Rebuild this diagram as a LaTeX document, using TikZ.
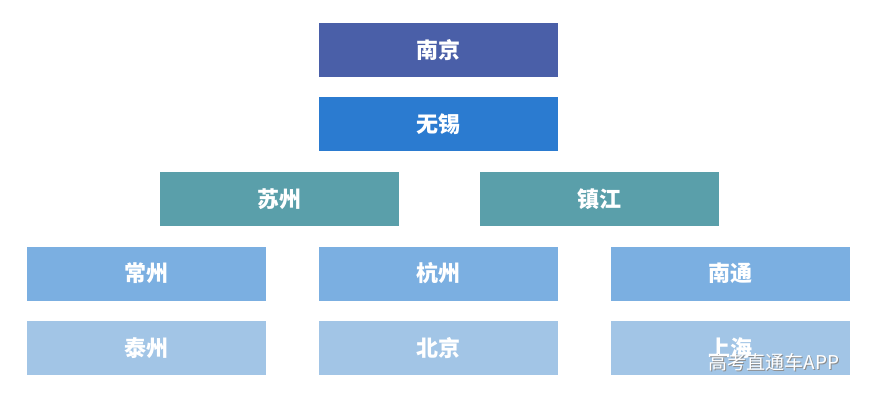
\documentclass[tikz,border=0pt]{standalone}
\usepackage{fontspec}
\newfontfamily\cjk{Noto Sans CJK SC}
\definecolor{cA}{HTML}{4A5FA8}
\definecolor{cB}{HTML}{2B7BD0}
\definecolor{cC}{HTML}{5A9FAA}
\definecolor{cD}{HTML}{7BAFE1}
\definecolor{cE}{HTML}{A2C5E6}
\begin{document}
\begin{tikzpicture}[x=1pt,y=-1pt,
  box/.style={minimum width=239pt,minimum height=54pt,inner sep=0pt,text=white,font=\cjk\bfseries\fontsize{22}{26}\selectfont}]
\useasboundingbox[fill=white] (0,0) rectangle (877,402);
\node[box,fill=cA] (nj) at (438.5,50) {南京};
\node[box,fill=cB] (wx) at (438.5,124) {无锡};
\node[box,fill=cC] (sz) at (279.5,199) {苏州};
\node[box,fill=cC] (zj) at (599,199) {镇江};
\node[box,fill=cD] (cz) at (146.5,273.5) {常州};
\node[box,fill=cD] (hz) at (438.5,273.5) {杭州};
\node[box,fill=cD] (nt) at (730.5,273.5) {南通};
\node[box,fill=cE] (tz) at (146.5,348) {泰州};
\node[box,fill=cE] (bj) at (438.5,348) {北京};
\node[box,fill=cE] (sh) at (730.5,348) {上海};
\node[text=black!45,font=\cjk\fontsize{19}{22}\selectfont] (wm) at (775,363) {高考直通车APP};
\node[text=white,font=\cjk\fontsize{19}{22}\selectfont] (wm2) at (774,362) {高考直通车APP};
\end{tikzpicture}
\end{document}
